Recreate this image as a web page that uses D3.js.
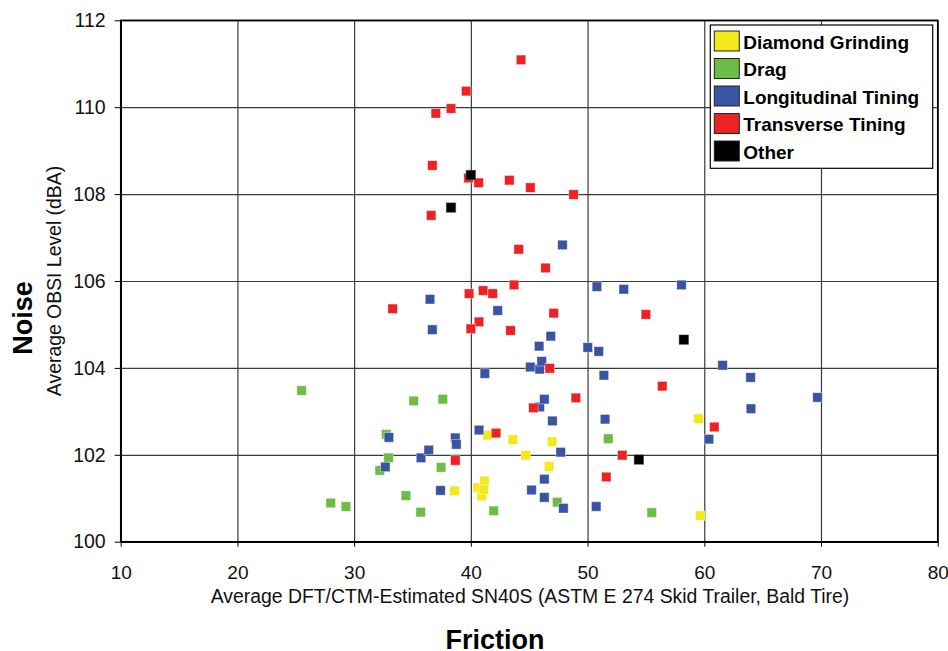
<!DOCTYPE html>
<html>
<head>
<meta charset="utf-8">
<script src="https://cdn.jsdelivr.net/npm/d3@7"></script>
<style>
  body { margin: 0; background: #fff; }
  svg { display: block; font-family: "Liberation Sans", Arial, sans-serif; }
</style>
</head>
<body>
<div id="chart"></div>
<script>
// series values: [friction, noise]
const diamondGrinding = [
  [38.6, 101.17], [40.6, 101.24], [41.16, 101.40], [40.94, 101.05], [41.1, 101.2],
  [41.4, 102.45], [43.6, 102.35], [44.7, 101.99], [46.96, 102.30], [46.7, 101.73],
  [59.5, 102.83], [59.65, 100.6]
];
const drag = [
  [25.5, 103.48], [28.0, 100.89], [29.3, 100.81], [32.75, 102.47], [32.95, 101.93],
  [32.2, 101.64], [34.44, 101.06], [35.1, 103.24], [35.7, 100.68], [37.6, 103.28],
  [37.45, 101.71], [41.96, 100.71], [47.4, 100.91], [51.77, 102.37], [55.5, 100.67]
];
const longitudinalTining = [
  [32.98, 102.4], [32.67, 101.72], [35.73, 101.93], [36.39, 102.11], [37.4, 101.18],
  [38.67, 102.39], [38.76, 102.24], [36.5, 105.58], [36.7, 104.88], [40.7, 102.57],
  [41.2, 103.87], [42.3, 105.32], [45.2, 101.19], [46.3, 101.44], [46.3, 101.02],
  [47.93, 100.77], [47.7, 102.06], [46.99, 102.78], [45.9, 103.1], [46.3, 103.28],
  [45.1, 104.02], [45.9, 103.97], [46.07, 104.15], [45.85, 104.5], [46.85, 104.73],
  [47.85, 106.83], [50.02, 104.47], [50.96, 104.38], [51.4, 103.83], [51.5, 102.82],
  [50.74, 100.81], [50.8, 105.87], [53.1, 105.81], [58.05, 105.91], [61.57, 104.06],
  [63.97, 103.78], [64.0, 103.06], [60.4, 102.36], [69.7, 103.32]
];
const transverseTining = [
  [44.3, 111.09], [39.6, 110.37], [38.3, 109.97], [37.0, 109.86], [36.7, 108.66],
  [39.8, 108.37], [40.67, 108.26], [43.3, 108.32], [45.1, 108.15], [48.8, 107.99],
  [36.6, 107.51], [44.1, 106.73], [46.4, 106.3], [43.7, 105.91], [39.85, 105.71],
  [41.05, 105.78], [41.87, 105.71], [33.3, 105.36], [47.1, 105.26], [40.7, 105.06],
  [40.0, 104.9], [43.4, 104.86], [46.76, 103.99], [49.0, 103.31], [45.36, 103.08],
  [42.16, 102.5], [38.67, 101.87], [51.6, 101.49], [52.97, 101.99], [55.0, 105.23],
  [56.4, 103.58], [60.86, 102.64]
];
const other = [
  [40.0, 108.44], [38.3, 107.69], [58.25, 104.65], [54.4, 101.89]
];

const seriesNames = ['Diamond Grinding', 'Drag', 'Longitudinal Tining', 'Transverse Tining', 'Other'];
const seriesColors = ['#f2e81a', '#6cbd45', '#3a54a4', '#ed2225', '#000000'];
const seriesData = [diamondGrinding, drag, longitudinalTining, transverseTining, other];
const drawOrder = [1, 0, 2, 3, 4];

const xTicks = [10, 20, 30, 40, 50, 60, 70, 80];
const yTicks = [100, 102, 104, 106, 108, 110, 112];

const xTitle = 'Average DFT/CTM-Estimated SN40S (ASTM E 274 Skid Trailer, Bald Tire)';
const xGroupTitle = 'Friction';
const yTitle = 'Average OBSI Level (dBA)';
const yGroupTitle = 'Noise';

const W = 948, H = 651;
const margin = { left: 120.7, right: 10.3, top: 20.3, bottom: 109.3 };
const width = W - margin.left - margin.right;
const height = H - margin.top - margin.bottom;

const xScale = d3.scaleLinear().domain([10, 80]).range([0, width]);
const yScale = d3.scaleLinear().domain([100, 112]).range([height, 0]);

const root = d3.select('#chart')
  .append('svg')
  .attr('width', W)
  .attr('height', H);

const svg = root.append('g')
  .attr('transform', `translate(${margin.left}, ${margin.top})`);

// grid
svg.append('g')
  .attr('class', 'grid')
  .call(d3.axisLeft(yScale).tickValues(yTicks).tickSize(-width).tickFormat(''))
  .call(g => g.select('.domain').remove())
  .selectAll('line')
  .attr('stroke', '#3a3a3a')
  .attr('stroke-width', 1.2);

svg.append('g')
  .attr('class', 'grid')
  .attr('transform', `translate(0, ${height})`)
  .call(d3.axisBottom(xScale).tickValues(xTicks).tickSize(-height).tickFormat(''))
  .call(g => g.select('.domain').remove())
  .selectAll('line')
  .attr('stroke', '#3a3a3a')
  .attr('stroke-width', 1.2);

// plot frame
svg.append('rect')
  .attr('width', width)
  .attr('height', height)
  .attr('fill', 'none')
  .attr('stroke', '#000')
  .attr('stroke-width', 1.5);

// axes
svg.append('g')
  .attr('transform', `translate(0, ${height})`)
  .call(d3.axisBottom(xScale).tickValues(xTicks).tickSize(5).tickSizeOuter(0).tickPadding(19))
  .call(g => g.select('.domain').attr('stroke', '#000').attr('stroke-width', 1.5))
  .call(g => g.selectAll('.tick line').attr('stroke', '#000'))
  .call(g => g.selectAll('.tick text').attr('font-size', 19).attr('fill', '#111'));

svg.append('g')
  .call(d3.axisLeft(yScale).tickValues(yTicks).tickSize(6).tickSizeOuter(0).tickPadding(9))
  .call(g => g.select('.domain').attr('stroke', '#000').attr('stroke-width', 1.5))
  .call(g => g.selectAll('.tick line').attr('stroke', '#000'))
  .call(g => g.selectAll('.tick text').attr('font-size', 19.5).attr('fill', '#111'));

// points
const size = 9.5;
drawOrder.forEach(i => {
  svg.append('g')
    .selectAll('rect')
    .data(seriesData[i])
    .enter()
    .append('rect')
    .attr('x', d => xScale(d[0]) - size / 2)
    .attr('y', d => yScale(d[1]) - size / 2)
    .attr('width', size)
    .attr('height', size)
    .attr('fill', seriesColors[i])
    .attr('stroke', i === 4 ? '#555' : '#fff')
    .attr('stroke-opacity', 0.5)
    .attr('stroke-width', 0.8);
});

// axis titles
root.append('text')
  .attr('x', 530)
  .attr('y', 603)
  .attr('text-anchor', 'middle')
  .attr('font-size', 19.4)
  .attr('fill', '#111')
  .text(xTitle);

root.append('text')
  .attr('x', 495)
  .attr('y', 648.5)
  .attr('text-anchor', 'middle')
  .attr('font-size', 27)
  .attr('font-weight', 'bold')
  .attr('fill', '#000')
  .text(xGroupTitle);

root.append('text')
  .attr('transform', 'translate(61, 281) rotate(-90)')
  .attr('text-anchor', 'middle')
  .attr('font-size', 19.4)
  .attr('fill', '#111')
  .text(yTitle);

root.append('text')
  .attr('transform', 'translate(32, 318) rotate(-90)')
  .attr('text-anchor', 'middle')
  .attr('font-size', 27)
  .attr('font-weight', 'bold')
  .attr('fill', '#000')
  .text(yGroupTitle);

// legend
const legend = root.append('g')
  .attr('transform', 'translate(710.3, 25)');

legend.append('rect')
  .attr('width', 222.4)
  .attr('height', 143.3)
  .attr('fill', '#fff')
  .attr('stroke', '#000')
  .attr('stroke-width', 1.2);

const rowStep = 27.5;
legend.selectAll('.swatch')
  .data(seriesNames)
  .enter()
  .append('rect')
  .attr('class', 'swatch')
  .attr('x', 4)
  .attr('y', (_, i) => 6 + i * rowStep)
  .attr('width', 25)
  .attr('height', 20)
  .attr('fill', (_, i) => seriesColors[i])
  .attr('stroke', '#222')
  .attr('stroke-width', 1);

legend.selectAll('.label')
  .data(seriesNames)
  .enter()
  .append('text')
  .attr('class', 'label')
  .attr('x', 33)
  .attr('y', (_, i) => 23.5 + i * rowStep)
  .attr('font-size', 19)
  .attr('font-weight', 'bold')
  .attr('fill', '#000')
  .text(d => d);
</script>
</body>
</html>
